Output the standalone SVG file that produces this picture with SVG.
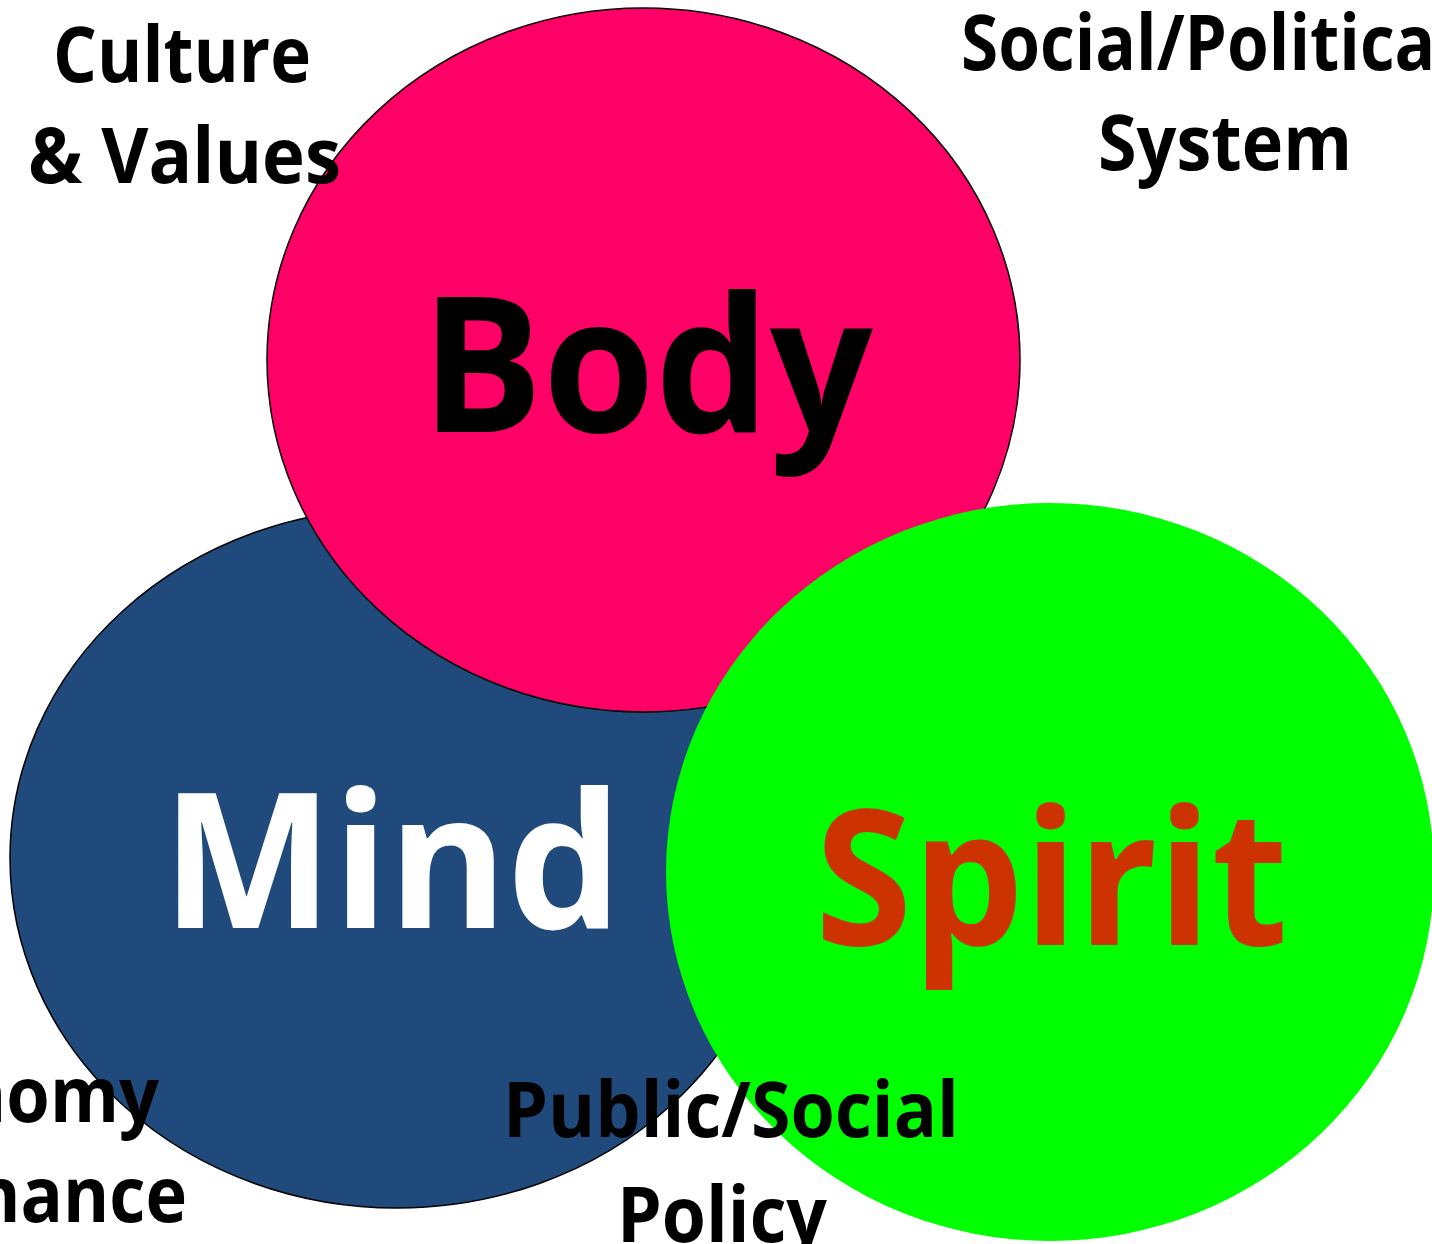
<svg xmlns="http://www.w3.org/2000/svg" width="1432" height="1244" viewBox="0 0 1432 1244">
<style>
.lbl{font-family:"Open Sans","Noto Sans","Liberation Sans",sans-serif;font-weight:bold;font-size:77px;fill:#000}
.big{font-family:"Open Sans","Noto Sans","Liberation Sans",sans-serif;font-weight:bold;font-size:189px}
</style>
<rect width="1432" height="1244" fill="#fff"/>
<g id="mind">
<ellipse cx="397" cy="858" rx="387" ry="350" fill="#214A7C" stroke="#000" stroke-width="1.5"/>
</g>
<g id="body">
<ellipse cx="643.5" cy="360" rx="376.5" ry="352" fill="#FF0066" stroke="#000" stroke-width="1.5"/>
</g>
<g id="spirit">
<ellipse cx="1050" cy="872" rx="384" ry="369" fill="#00FF00"/>
</g>
<g id="connectors"></g>
<g id="labels">
<text class="big" x="421" y="432" textLength="452" lengthAdjust="spacingAndGlyphs" fill="#000">Body</text>
<text class="big" x="162" y="928" textLength="460" lengthAdjust="spacingAndGlyphs" fill="#fff">Mind</text>
<text class="big" x="815" y="945" textLength="473" lengthAdjust="spacingAndGlyphs" fill="#CC3300">Spirit</text>
<text class="lbl" x="53" y="82" textLength="258" lengthAdjust="spacingAndGlyphs">Culture</text>
<text class="lbl" x="28" y="183" textLength="313" lengthAdjust="spacingAndGlyphs">&amp; Values</text>
<text class="lbl" x="961" y="70" textLength="495" lengthAdjust="spacingAndGlyphs">Social/Political</text>
<text class="lbl" x="1098" y="170" textLength="254" lengthAdjust="spacingAndGlyphs">System</text>
<text class="lbl" x="-159" y="1122" textLength="318" lengthAdjust="spacingAndGlyphs">Economy</text>
<text class="lbl" x="-157" y="1222" textLength="344" lengthAdjust="spacingAndGlyphs">&amp; Finance</text>
<text class="lbl" x="503" y="1137" textLength="456" lengthAdjust="spacingAndGlyphs">Public/Social</text>
<text class="lbl" x="617" y="1242" textLength="210" lengthAdjust="spacingAndGlyphs">Policy</text>
</g>
</svg>
